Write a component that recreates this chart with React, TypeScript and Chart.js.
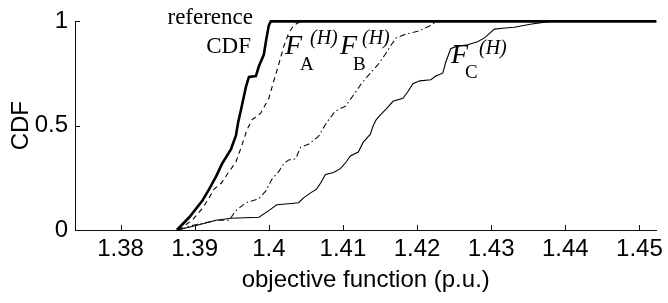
import React, { useEffect, useRef } from "react";
import { Chart, registerables } from "chart.js";

Chart.register(...registerables);

const X_TICKS = [1.38, 1.39, 1.4, 1.41, 1.42, 1.43, 1.44, 1.45];
const Y_TICKS = [0, 0.5, 1];
const X_MIN = 1.37385;
const X_MAX = 1.4523;

const REF_X = [1.3876, 1.38927, 1.39102, 1.39195, 1.39289, 1.3937, 1.3949, 1.39557, 1.39585, 1.39624, 1.39692, 1.39732, 1.39826, 1.39866, 1.39933, 1.3996, 1.4, 1.40027, 1.4523];
const REF_Y = [0, 0.061, 0.14, 0.196, 0.257, 0.318, 0.388, 0.453, 0.514, 0.575, 0.687, 0.734, 0.738, 0.785, 0.841, 0.902, 0.981, 1, 1];

const FA_X = [1.3878, 1.38967, 1.39102, 1.39195, 1.39262, 1.39356, 1.39437, 1.39557, 1.39638, 1.39705, 1.39772, 1.39893, 1.4, 1.40067, 1.40134, 1.40201, 1.40268, 1.40335, 1.40429];
const FA_Y = [0, 0.047, 0.103, 0.154, 0.196, 0.224, 0.266, 0.327, 0.407, 0.481, 0.528, 0.561, 0.631, 0.715, 0.794, 0.879, 0.944, 0.981, 1];

const FB_X = [1.3879, 1.38927, 1.39128, 1.39289, 1.39464, 1.39557, 1.39692, 1.39866, 1.3996, 1.4004, 1.40134, 1.40201, 1.40268, 1.40362, 1.40429, 1.40536, 1.4067, 1.40778, 1.40898, 1.41033, 1.41167, 1.41247, 1.41381, 1.41475, 1.41569, 1.41636, 1.41716, 1.41851, 1.42011, 1.42186, 1.4224, 1.4228];
const FB_Y = [0, 0.019, 0.033, 0.047, 0.047, 0.093, 0.131, 0.15, 0.187, 0.243, 0.28, 0.318, 0.336, 0.341, 0.397, 0.411, 0.449, 0.514, 0.57, 0.593, 0.659, 0.701, 0.757, 0.794, 0.841, 0.879, 0.921, 0.939, 0.953, 0.981, 0.995, 1];

const FC_X = [1.38766, 1.38994, 1.39289, 1.3949, 1.39866, 1.4, 1.40107, 1.40268, 1.40402, 1.40469, 1.40563, 1.40644, 1.40697, 1.40764, 1.40872, 1.40966, 1.41046, 1.411, 1.41207, 1.41274, 1.41368, 1.41408, 1.41448, 1.41502, 1.41582, 1.41676, 1.4181, 1.41877, 1.41944, 1.42038, 1.42186, 1.42253, 1.42347, 1.42387, 1.42454, 1.42521, 1.42682, 1.42816, 1.4291, 1.43044, 1.43151, 1.43312, 1.43527, 1.43795];
const FC_Y = [0, 0.019, 0.047, 0.056, 0.061, 0.093, 0.121, 0.126, 0.131, 0.154, 0.178, 0.196, 0.224, 0.266, 0.276, 0.294, 0.327, 0.355, 0.374, 0.421, 0.458, 0.5, 0.528, 0.551, 0.579, 0.617, 0.631, 0.664, 0.701, 0.715, 0.72, 0.738, 0.752, 0.804, 0.869, 0.879, 0.888, 0.902, 0.921, 0.963, 0.967, 0.972, 0.986, 1];

const REF_LABEL = ["reference", "CDF"];
const F_SUBS = ["A", "B", "C"];

const pts = (xs: number[], ys: number[]) => xs.map((x, i) => ({ x, y: ys[i] }));

const SANS = "'Liberation Sans', Arial, Helvetica, sans-serif";
const SERIF = "'Liberation Serif', 'Times New Roman', serif";

const annotPlugin = {
  id: "annot",
  afterDraw(chart: any) {
    const { ctx, chartArea, scales } = chart;
    ctx.save();
    ctx.strokeStyle = "#111";
    ctx.lineWidth = 1;
    X_TICKS.forEach((v) => {
      const px = Math.round(scales.x.getPixelForValue(v)) + 0.5;
      ctx.beginPath();
      ctx.moveTo(px, chartArea.bottom);
      ctx.lineTo(px, chartArea.bottom - 5);
      ctx.stroke();
    });
    Y_TICKS.forEach((v) => {
      const py = Math.round(scales.y.getPixelForValue(v)) + 0.5;
      ctx.beginPath();
      ctx.moveTo(chartArea.left, py);
      ctx.lineTo(chartArea.left + 5, py);
      ctx.stroke();
    });

    ctx.fillStyle = "#000";
    ctx.textBaseline = "alphabetic";
    ctx.textAlign = "right";
    ctx.font = `23px ${SERIF}`;
    ctx.fillText(REF_LABEL[0], 253, 24);
    ctx.fillText(REF_LABEL[1], 251, 53);

    ctx.textAlign = "left";
    const labelPos = [
      { fx: 285, fy: 54, hx: 310, hy: 44, sx: 300, sy: 70 },
      { fx: 340, fy: 54, hx: 362, hy: 44, sx: 353, sy: 70 },
      { fx: 451, fy: 63, hx: 479, hy: 54, sx: 465, sy: 78 },
    ];
    labelPos.forEach((p, i) => {
      ctx.font = `italic 28px ${SERIF}`;
      ctx.fillText("F", p.fx, p.fy);
      ctx.font = `italic 20px ${SERIF}`;
      ctx.fillText("(H)", p.hx, p.hy);
      ctx.font = `19px ${SERIF}`;
      ctx.fillText(F_SUBS[i], p.sx, p.sy);
    });
    ctx.restore();
  },
};

export default function App() {
  const ref = useRef<HTMLCanvasElement>(null);
  useEffect(() => {
    document.body.style.margin = "0";
    const canvas = ref.current!;
    const chart = new Chart(canvas, {
      type: "line",
      data: {
        datasets: [
          {
            label: "reference CDF",
            data: pts(REF_X, REF_Y),
            borderColor: "#000",
            borderWidth: 2.6,
            pointRadius: 0,
            fill: false,
            tension: 0,
            clip: 6,
            order: 0,
          },
          {
            label: "F_A",
            data: pts(FA_X, FA_Y),
            borderColor: "#000",
            borderWidth: 1.1,
            borderDash: [5, 4],
            pointRadius: 0,
            fill: false,
            tension: 0,
            clip: 6,
            order: 1,
          },
          {
            label: "F_B",
            data: pts(FB_X, FB_Y),
            borderColor: "#111",
            borderWidth: 1.1,
            borderDash: [6, 3, 1.5, 3],
            pointRadius: 0,
            fill: false,
            tension: 0,
            clip: 6,
            order: 2,
          },
          {
            label: "F_C",
            data: pts(FC_X, FC_Y),
            borderColor: "#000",
            borderWidth: 1.1,
            pointRadius: 0,
            fill: false,
            tension: 0,
            clip: 6,
            order: 3,
          },
        ],
      },
      options: {
        animation: false,
        responsive: false,
        devicePixelRatio: 1,
        parsing: false as any,
        layout: { padding: { left: 0, right: 8, top: 16, bottom: 0 } },
        plugins: { legend: { display: false }, tooltip: { enabled: false } },
        scales: {
          x: {
            type: "linear",
            min: X_MIN,
            max: X_MAX,
            afterBuildTicks: (s: any) => {
              s.ticks = X_TICKS.map((v) => ({ value: v }));
            },
            afterFit: (s: any) => {
              s.height = 73;
            },
            grid: { display: false, drawTicks: false },
            border: { display: true, color: "#111", width: 1 },
            ticks: {
              color: "#000",
              font: { family: SANS, size: 24 },
              padding: 5,
              maxRotation: 0,
              autoSkip: false,
              callback: (v: any) => String(Number(Number(v).toFixed(2))),
            },
            title: {
              display: true,
              text: "objective function (p.u.)",
              color: "#000",
              font: { family: SANS, size: 24 },
              padding: { top: 0, bottom: 8 },
            },
          },
          y: {
            type: "linear",
            min: 0,
            max: 1,
            afterBuildTicks: (s: any) => {
              s.ticks = Y_TICKS.map((v) => ({ value: v }));
            },
            afterFit: (s: any) => {
              s.width = 75;
            },
            grid: { display: false, drawTicks: false },
            border: { display: true, color: "#111", width: 1 },
            ticks: {
              color: "#000",
              font: { family: SANS, size: 24 },
              padding: 7,
              callback: (v: any) => String(v),
            },
            title: {
              display: true,
              text: "CDF",
              color: "#000",
              font: { family: SANS, size: 24 },
              padding: { top: 7, bottom: 0 },
            },
          },
        },
      },
      plugins: [annotPlugin],
    });
    return () => chart.destroy();
  }, []);
  return (
    <div style={{ width: 668, height: 303 }}>
      <canvas ref={ref} width={668} height={303} style={{ display: "block", width: 668, height: 303 }} />
    </div>
  );
}
